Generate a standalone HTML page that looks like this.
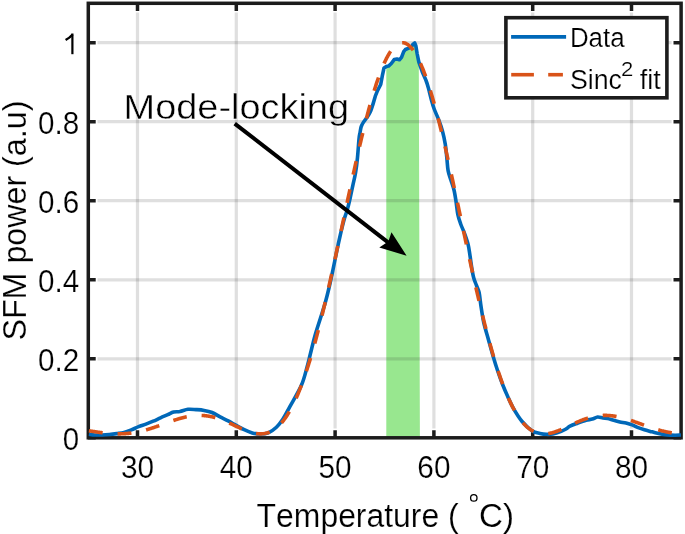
<!DOCTYPE html>
<html><head><meta charset="utf-8"><style>
html,body{margin:0;padding:0;background:#fff;width:685px;height:534px;overflow:hidden}
svg{display:block;will-change:transform}
text{font-family:"Liberation Sans",sans-serif;fill:#000;font-kerning:none;stroke:#fff;stroke-width:0.2px;paint-order:fill stroke}
</style></head><body>
<svg width="685" height="534" viewBox="0 0 685 534">
<rect width="685" height="534" fill="#fff"/>
<path d="M386.3,437.8 L386.3,66.6 L388.5,66.1 L391.3,63.5 L394.2,59.6 L397.0,59.0 L399.4,59.8 L401.5,57.3 L403.7,51.7 L405.4,49.5 L408.2,48.4 L411.0,47.2 L413.3,43.9 L414.7,43.0 L415.8,45.6 L417.2,54.0 L418.8,61.8 L419.9,437.8 Z" fill="#98e78f"/>
<g stroke="rgb(38,38,38)" stroke-opacity="0.15" stroke-width="3.2"><line x1="137.5" y1="12.6" x2="137.5" y2="428.5"/><line x1="236.3" y1="12.6" x2="236.3" y2="428.5"/><line x1="335.1" y1="12.6" x2="335.1" y2="428.5"/><line x1="433.9" y1="12.6" x2="433.9" y2="428.5"/><line x1="532.7" y1="12.6" x2="532.7" y2="428.5"/><line x1="631.5" y1="12.6" x2="631.5" y2="428.5"/><line x1="97.5" y1="358.8" x2="671.6" y2="358.8"/><line x1="97.5" y1="279.8" x2="671.6" y2="279.8"/><line x1="97.5" y1="200.7" x2="671.6" y2="200.7"/><line x1="97.5" y1="121.7" x2="671.6" y2="121.7"/><line x1="97.5" y1="42.7" x2="671.6" y2="42.7"/></g>
<g fill="none" stroke="#1c1c1c" stroke-width="3.5">
<rect x="88.3" y="3.3" width="592.8" height="434.5"/>
<path d="M137.5,437.8V430.2 M137.5,3.3V10.9 M236.3,437.8V430.2 M236.3,3.3V10.9 M335.1,437.8V430.2 M335.1,3.3V10.9 M433.9,437.8V430.2 M433.9,3.3V10.9 M532.7,437.8V430.2 M532.7,3.3V10.9 M631.5,437.8V430.2 M631.5,3.3V10.9 M88.1,437.8H95.7 M681.1,437.8H673.5 M88.1,358.8H95.7 M681.1,358.8H673.5 M88.1,279.8H95.7 M681.1,279.8H673.5 M88.1,200.7H95.7 M681.1,200.7H673.5 M88.1,121.7H95.7 M681.1,121.7H673.5 M88.1,42.7H95.7 M681.1,42.7H673.5 "/>
</g>
<path d="M88.90,434.30 C89.88,434.42 92.60,434.88 94.80,435.00 C97.00,435.12 99.67,435.08 102.10,435.00 C104.53,434.92 106.97,434.73 109.40,434.50 C111.83,434.27 114.27,433.95 116.70,433.60 C119.13,433.25 121.57,433.02 124.00,432.40 C126.43,431.78 128.87,430.85 131.30,429.90 C133.73,428.95 136.17,427.67 138.60,426.70 C141.03,425.73 143.47,425.02 145.90,424.10 C148.33,423.18 150.77,422.25 153.20,421.20 C155.63,420.15 158.07,418.90 160.50,417.80 C162.93,416.70 165.62,415.57 167.80,414.60 C169.98,413.63 171.57,412.52 173.60,412.00 C175.63,411.48 177.60,411.95 180.00,411.50 C182.40,411.05 185.32,409.62 188.00,409.30 C190.68,408.98 193.42,409.42 196.10,409.60 C198.78,409.78 201.43,409.92 204.10,410.40 C206.77,410.88 209.43,411.42 212.10,412.50 C214.77,413.58 217.42,415.50 220.10,416.90 C222.78,418.30 225.52,419.48 228.20,420.90 C230.88,422.32 233.53,423.93 236.20,425.40 C238.87,426.87 241.52,428.45 244.20,429.70 C246.88,430.95 249.62,432.18 252.30,432.90 C254.98,433.62 257.63,434.00 260.30,434.00 C262.97,434.00 265.62,434.02 268.30,432.90 C270.98,431.78 273.98,429.57 276.40,427.30 C278.82,425.03 280.53,422.78 282.80,419.30 C285.07,415.82 286.90,412.07 290.00,406.40 C293.10,400.73 298.57,391.82 301.40,385.30 C304.23,378.78 305.50,372.55 307.00,367.30 C308.50,362.05 309.08,359.03 310.40,353.80 C311.72,348.57 313.22,341.87 314.90,335.90 C316.58,329.93 318.77,323.57 320.50,318.00 C322.23,312.43 323.87,307.58 325.30,302.50 C326.73,297.42 327.85,292.82 329.10,287.50 C330.35,282.18 331.55,276.53 332.80,270.60 C334.05,264.67 335.35,257.83 336.60,251.90 C337.85,245.97 339.07,240.32 340.30,235.00 C341.53,229.68 342.85,224.17 344.00,220.00 C345.15,215.83 346.20,213.54 347.20,210.00 C348.20,206.46 349.07,202.82 350.00,198.75 C350.93,194.68 351.87,189.97 352.80,185.60 C353.73,181.22 354.82,177.18 355.60,172.50 C356.38,167.82 356.93,163.10 357.50,157.50 C358.07,151.90 358.57,143.12 359.00,138.90 C359.43,134.68 359.73,134.25 360.10,132.20 C360.47,130.15 360.63,128.28 361.20,126.60 C361.77,124.92 362.55,123.60 363.50,122.10 C364.45,120.60 365.78,119.28 366.90,117.60 C368.02,115.92 369.18,114.25 370.20,112.00 C371.22,109.75 373.00,104.10 373.00,104.10 L375.30,96.20 L377.50,90.60 L380.70,84.50 L382.40,75.30 L384.00,68.00 L386.30,66.60 L388.50,66.10 L391.30,63.50 L394.20,59.60 L397.00,59.00 L399.40,59.80 L401.50,57.30 L403.70,51.70 L405.40,49.50 L408.20,48.40 L411.00,47.20 L413.30,43.90 L414.70,43.00 L415.80,45.60 L417.20,54.00 L418.80,61.80 L422.30,72.00 C422.30,72.00 425.18,78.33 426.20,81.00 C427.22,83.67 427.55,84.93 428.40,88.00 C429.25,91.07 430.35,95.94 431.30,99.40 C432.25,102.86 432.86,105.32 434.10,108.75 C435.34,112.18 437.35,116.25 438.75,120.00 C440.15,123.75 441.41,127.18 442.50,131.25 C443.59,135.32 444.58,140.03 445.30,144.40 C446.02,148.78 446.33,153.13 446.80,157.50 C447.27,161.87 447.42,166.85 448.10,170.60 C448.78,174.35 449.92,176.77 450.90,180.00 C451.88,183.23 453.15,186.46 454.00,190.00 C454.85,193.54 455.37,197.18 456.00,201.25 C456.63,205.32 457.03,210.65 457.80,214.40 C458.57,218.15 459.50,220.63 460.60,223.75 C461.70,226.87 463.15,229.66 464.40,233.10 C465.65,236.54 467.17,240.65 468.10,244.40 C469.03,248.15 469.37,251.54 470.00,255.60 C470.63,259.66 471.27,265.00 471.90,268.75 C472.52,272.50 472.98,275.31 473.75,278.10 C474.52,280.89 475.61,283.10 476.50,285.50 C477.39,287.90 478.37,289.15 479.10,292.50 C479.83,295.85 480.12,300.60 480.90,305.60 C481.67,310.60 482.50,316.87 483.75,322.50 C485.00,328.13 486.84,333.77 488.40,339.40 C489.96,345.02 491.53,350.94 493.10,356.25 C494.67,361.56 496.18,366.46 497.80,371.25 C499.42,376.04 501.18,380.88 502.80,385.00 C504.42,389.12 505.73,392.10 507.50,396.00 C509.27,399.90 510.97,404.15 513.40,408.40 C515.83,412.65 518.95,417.73 522.10,421.50 C525.25,425.27 529.32,429.02 532.30,431.00 C535.28,432.98 537.65,432.85 540.00,433.40 C542.35,433.95 544.27,434.22 546.40,434.30 C548.53,434.38 550.33,434.40 552.80,433.90 C555.27,433.40 559.00,432.12 561.20,431.30 C563.40,430.48 564.53,429.85 566.00,429.00 C567.47,428.15 568.07,427.17 570.00,426.20 C571.93,425.23 574.92,424.18 577.60,423.20 C580.28,422.22 583.65,420.98 586.10,420.30 C588.55,419.62 590.38,419.65 592.30,419.10 C594.22,418.55 595.82,417.18 597.60,417.00 C599.38,416.82 601.33,417.75 603.00,418.00 C604.67,418.25 605.82,418.12 607.60,418.50 C609.38,418.88 611.65,419.73 613.70,420.30 C615.75,420.87 617.85,421.43 619.90,421.90 C621.95,422.37 623.97,422.60 626.00,423.10 C628.03,423.60 630.07,424.13 632.10,424.90 C634.13,425.67 636.15,426.88 638.20,427.70 C640.25,428.52 642.10,429.12 644.40,429.80 C646.70,430.48 649.45,431.13 652.00,431.80 C654.55,432.47 657.13,433.28 659.70,433.80 C662.27,434.32 664.85,434.67 667.40,434.90 C669.95,435.13 672.75,435.18 675.00,435.20 C677.25,435.22 679.92,435.03 680.90,435.00" fill="none" stroke="#0068b8" stroke-width="3.6" stroke-linejoin="round"/>
<path d="M88.10,430.67 L88.59,430.74 L89.09,430.82 L89.58,430.90 L90.08,430.97 L90.57,431.05 L91.06,431.13 L91.56,431.20 L92.05,431.28 L92.55,431.35 L93.04,431.43 L93.53,431.50 L94.03,431.58 L94.52,431.65 L95.02,431.73 L95.51,431.80 L96.00,431.87 L96.50,431.94 L96.99,432.01 L97.49,432.09 L97.98,432.16 L98.47,432.22 L98.97,432.29 L99.46,432.36 L99.96,432.43 L100.45,432.49 L100.94,432.56 L101.44,432.62 L101.93,432.68 L102.43,432.74 L102.92,432.80 L103.41,432.86 L103.91,432.92 L104.40,432.97 L104.90,433.03 L105.39,433.08 L105.88,433.13 L106.38,433.18 L106.87,433.23 L107.37,433.28 L107.86,433.33 L108.35,433.37 L108.85,433.41 L109.34,433.45 L109.84,433.49 L110.33,433.53 L110.82,433.56 L111.32,433.60 L111.81,433.63 L112.31,433.66 L112.80,433.69 L113.29,433.71 L113.79,433.73 L114.28,433.76 L114.78,433.78 L115.27,433.79 L115.76,433.81 L116.26,433.82 L116.75,433.83 L117.25,433.84 L117.74,433.84 L118.23,433.85 L118.73,433.85 L119.22,433.85 L119.72,433.84 L120.21,433.84 L120.70,433.83 L121.20,433.82 L121.69,433.81 L122.19,433.79 L122.68,433.77 L123.17,433.75 L123.67,433.73 L124.16,433.70 L124.66,433.67 L125.15,433.64 L125.64,433.61 L126.14,433.57 L126.63,433.53 L127.13,433.49 L127.62,433.44 L128.11,433.40 L128.61,433.35 L129.10,433.29 L129.60,433.24 L130.09,433.18 L130.58,433.12 L131.08,433.06 L131.57,432.99 L132.07,432.92 L132.56,432.85 L133.05,432.78 L133.55,432.70 L134.04,432.62 L134.54,432.54 L135.03,432.46 L135.52,432.37 L136.02,432.28 L136.51,432.19 L137.01,432.09 L137.50,431.99 L137.99,431.89 L138.49,431.79 L138.98,431.69 L139.48,431.58 L139.97,431.47 L140.46,431.36 L140.96,431.24 L141.45,431.12 L141.95,431.00 L142.44,430.88 L142.93,430.76 L143.43,430.63 L143.92,430.50 L144.42,430.37 L144.91,430.24 L145.40,430.10 L145.90,429.96 L146.39,429.82 L146.89,429.68 L147.38,429.54 L147.87,429.39 L148.37,429.24 L148.86,429.09 L149.36,428.94 L149.85,428.79 L150.34,428.63 L150.84,428.48 L151.33,428.32 L151.83,428.16 L152.32,428.00 L152.81,427.83 L153.31,427.67 L153.80,427.50 L154.30,427.34 L154.79,427.17 L155.28,427.00 L155.78,426.83 L156.27,426.66 L156.77,426.48 L157.26,426.31 L157.75,426.13 L158.25,425.96 L158.74,425.78 L159.24,425.61 L159.73,425.43 L160.22,425.25 L160.72,425.07 L161.21,424.89 L161.71,424.71 L162.20,424.53 L162.69,424.35 L163.19,424.17 L163.68,423.99 L164.18,423.81 L164.67,423.63 L165.16,423.45 L165.66,423.27 L166.15,423.09 L166.65,422.91 L167.14,422.73 L167.63,422.55 L168.13,422.37 L168.62,422.19 L169.12,422.02 L169.61,421.84 L170.10,421.67 L170.60,421.49 L171.09,421.32 L171.59,421.15 L172.08,420.97 L172.57,420.80 L173.07,420.64 L173.56,420.47 L174.06,420.30 L174.55,420.14 L175.04,419.98 L175.54,419.81 L176.03,419.65 L176.53,419.50 L177.02,419.34 L177.51,419.19 L178.01,419.04 L178.50,418.89 L179.00,418.74 L179.49,418.59 L179.98,418.45 L180.48,418.31 L180.97,418.17 L181.47,418.04 L181.96,417.91 L182.45,417.78 L182.95,417.65 L183.44,417.52 L183.94,417.40 L184.43,417.28 L184.92,417.17 L185.42,417.06 L185.91,416.95 L186.41,416.84 L186.90,416.74 L187.39,416.64 L187.89,416.54 L188.38,416.45 L188.88,416.36 L189.37,416.28 L189.86,416.19 L190.36,416.12 L190.85,416.04 L191.35,415.97 L191.84,415.90 L192.33,415.84 L192.83,415.78 L193.32,415.73 L193.82,415.68 L194.31,415.63 L194.80,415.59 L195.30,415.55 L195.79,415.51 L196.29,415.48 L196.78,415.46 L197.27,415.44 L197.77,415.42 L198.26,415.40 L198.76,415.40 L199.25,415.39 L199.74,415.39 L200.24,415.40 L200.73,415.40 L201.23,415.42 L201.72,415.44 L202.21,415.46 L202.71,415.48 L203.20,415.52 L203.70,415.55 L204.19,415.59 L204.68,415.64 L205.18,415.69 L205.67,415.74 L206.17,415.80 L206.66,415.86 L207.15,415.93 L207.65,416.00 L208.14,416.08 L208.64,416.16 L209.13,416.25 L209.62,416.34 L210.12,416.43 L210.61,416.53 L211.11,416.63 L211.60,416.74 L212.09,416.85 L212.59,416.97 L213.08,417.09 L213.58,417.21 L214.07,417.34 L214.56,417.47 L215.06,417.61 L215.55,417.75 L216.05,417.90 L216.54,418.05 L217.03,418.20 L217.53,418.36 L218.02,418.52 L218.52,418.68 L219.01,418.85 L219.50,419.02 L220.00,419.19 L220.49,419.37 L220.99,419.55 L221.48,419.74 L221.97,419.93 L222.47,420.12 L222.96,420.31 L223.46,420.51 L223.95,420.71 L224.44,420.91 L224.94,421.12 L225.43,421.32 L225.93,421.53 L226.42,421.75 L226.91,421.96 L227.41,422.18 L227.90,422.39 L228.40,422.62 L228.89,422.84 L229.38,423.06 L229.88,423.29 L230.37,423.51 L230.87,423.74 L231.36,423.97 L231.85,424.20 L232.35,424.43 L232.84,424.66 L233.34,424.90 L233.83,425.13 L234.32,425.36 L234.82,425.60 L235.31,425.83 L235.81,426.06 L236.30,426.30 L236.79,426.53 L237.29,426.76 L237.78,426.99 L238.28,427.23 L238.77,427.46 L239.26,427.68 L239.76,427.91 L240.25,428.14 L240.75,428.36 L241.24,428.58 L241.73,428.80 L242.23,429.02 L242.72,429.24 L243.22,429.45 L243.71,429.66 L244.20,429.87 L244.70,430.07 L245.19,430.27 L245.69,430.47 L246.18,430.66 L246.67,430.85 L247.17,431.04 L247.66,431.22 L248.16,431.40 L248.65,431.57 L249.14,431.74 L249.64,431.90 L250.13,432.06 L250.63,432.22 L251.12,432.36 L251.61,432.50 L252.11,432.64 L252.60,432.77 L253.10,432.89 L253.59,433.01 L254.08,433.12 L254.58,433.22 L255.07,433.32 L255.57,433.41 L256.06,433.49 L256.55,433.56 L257.05,433.63 L257.54,433.69 L258.04,433.73 L258.53,433.78 L259.02,433.81 L259.52,433.83 L260.01,433.84 L260.51,433.85 L261.00,433.84 L261.49,433.83 L261.99,433.81 L262.48,433.77 L262.98,433.73 L263.47,433.67 L263.96,433.61 L264.46,433.53 L264.95,433.44 L265.45,433.34 L265.94,433.23 L266.43,433.11 L266.93,432.97 L267.42,432.83 L267.92,432.67 L268.41,432.50 L268.90,432.32 L269.40,432.12 L269.89,431.91 L270.39,431.69 L270.88,431.45 L271.37,431.20 L271.87,430.94 L272.36,430.67 L272.86,430.38 L273.35,430.07 L273.84,429.75 L274.34,429.42 L274.83,429.07 L275.33,428.71 L275.82,428.33 L276.31,427.94 L276.81,427.53 L277.30,427.11 L277.80,426.67 L278.29,426.21 L278.78,425.74 L279.28,425.25 L279.77,424.75 L280.27,424.23 L280.76,423.69 L281.25,423.14 L281.75,422.57 L282.24,421.99 L282.74,421.38 L283.23,420.76 L283.72,420.13 L284.22,419.47 L284.71,418.80 L285.21,418.11 L285.70,417.40 L286.19,416.68 L286.69,415.94 L287.18,415.18 L287.68,414.40 L288.17,413.60 L288.66,412.79 L289.16,411.95 L289.65,411.10 L290.15,410.23 L290.64,409.34 L291.13,408.44 L291.63,407.51 L292.12,406.57 L292.62,405.61 L293.11,404.63 L293.60,403.63 L294.10,402.61 L294.59,401.57 L295.09,400.51 L295.58,399.44 L296.07,398.35 L296.57,397.23 L297.06,396.10 L297.56,394.95 L298.05,393.78 L298.54,392.59 L299.04,391.39 L299.53,390.16 L300.03,388.91 L300.52,387.65 L301.01,386.37 L301.51,385.07 L302.00,383.75 L302.50,382.41 L302.99,381.05 L303.48,379.67 L303.98,378.28 L304.47,376.86 L304.97,375.43 L305.46,373.98 L305.95,372.51 L306.45,371.02 L306.94,369.52 L307.44,368.00 L307.93,366.45 L308.42,364.90 L308.92,363.32 L309.41,361.72 L309.91,360.11 L310.40,358.48 L310.89,356.83 L311.39,355.17 L311.88,353.49 L312.38,351.79 L312.87,350.07 L313.36,348.34 L313.86,346.59 L314.35,344.83 L314.85,343.05 L315.34,341.25 L315.83,339.43 L316.33,337.61 L316.82,335.76 L317.32,333.90 L317.81,332.02 L318.30,330.13 L318.80,328.23 L319.29,326.31 L319.79,324.37 L320.28,322.43 L320.77,320.46 L321.27,318.49 L321.76,316.50 L322.26,314.49 L322.75,312.48 L323.24,310.45 L323.74,308.41 L324.23,306.35 L324.73,304.28 L325.22,302.21 L325.71,300.11 L326.21,298.01 L326.70,295.90 L327.20,293.78 L327.69,291.64 L328.18,289.50 L328.68,287.34 L329.17,285.18 L329.67,283.00 L330.16,280.82 L330.65,278.63 L331.15,276.43 L331.64,274.22 L332.14,272.00 L332.63,269.77 L333.12,267.54 L333.62,265.30 L334.11,263.05 L334.61,260.80 L335.10,258.54 L335.59,256.28 L336.09,254.01 L336.58,251.73 L337.08,249.45 L337.57,247.16 L338.06,244.88 L338.56,242.58 L339.05,240.29 L339.55,237.99 L340.04,235.68 L340.53,233.38 L341.03,231.07 L341.52,228.76 L342.02,226.45 L342.51,224.14 L343.00,221.83 L343.50,219.51 L343.99,217.20 L344.49,214.89 L344.98,212.58 L345.47,210.27 L345.97,207.96 L346.46,205.65 L346.96,203.34 L347.45,201.04 L347.94,198.74 L348.44,196.45 L348.93,194.15 L349.43,191.87 L349.92,189.58 L350.41,187.30 L350.91,185.03 L351.40,182.76 L351.90,180.50 L352.39,178.24 L352.88,175.99 L353.38,173.75 L353.87,171.52 L354.37,169.29 L354.86,167.07 L355.35,164.86 L355.85,162.66 L356.34,160.47 L356.84,158.29 L357.33,156.12 L357.82,153.96 L358.32,151.81 L358.81,149.67 L359.31,147.54 L359.80,145.42 L360.29,143.32 L360.79,141.23 L361.28,139.15 L361.78,137.09 L362.27,135.04 L362.76,133.00 L363.26,130.98 L363.75,128.98 L364.25,126.98 L364.74,125.01 L365.23,123.05 L365.73,121.11 L366.22,119.18 L366.72,117.27 L367.21,115.38 L367.70,113.50 L368.20,111.65 L368.69,109.81 L369.19,107.99 L369.68,106.19 L370.17,104.41 L370.67,102.65 L371.16,100.91 L371.66,99.18 L372.15,97.48 L372.64,95.80 L373.14,94.15 L373.63,92.51 L374.13,90.90 L374.62,89.30 L375.11,87.73 L375.61,86.19 L376.10,84.66 L376.60,83.16 L377.09,81.68 L377.58,80.23 L378.08,78.80 L378.57,77.40 L379.07,76.02 L379.56,74.66 L380.05,73.33 L380.55,72.03 L381.04,70.75 L381.54,69.49 L382.03,68.27 L382.52,67.07 L383.02,65.89 L383.51,64.75 L384.01,63.63 L384.50,62.53 L384.99,61.47 L385.49,60.43 L385.98,59.42 L386.48,58.44 L386.97,57.48 L387.46,56.56 L387.96,55.66 L388.45,54.80 L388.95,53.96 L389.44,53.15 L389.93,52.37 L390.43,51.62 L390.92,50.89 L391.42,50.20 L391.91,49.54 L392.40,48.91 L392.90,48.31 L393.39,47.74 L393.89,47.19 L394.38,46.68 L394.87,46.20 L395.37,45.75 L395.86,45.33 L396.36,44.94 L396.85,44.59 L397.34,44.26 L397.84,43.96 L398.33,43.70 L398.83,43.46 L399.32,43.26 L399.81,43.09 L400.31,42.95 L400.80,42.84 L401.30,42.76 L401.79,42.72 L402.28,42.70 L402.78,42.72 L403.27,42.76 L403.77,42.84 L404.26,42.95 L404.75,43.09 L405.25,43.26 L405.74,43.46 L406.24,43.70 L406.73,43.96 L407.22,44.26 L407.72,44.59 L408.21,44.94 L408.71,45.33 L409.20,45.75 L409.69,46.20 L410.19,46.68 L410.68,47.19 L411.18,47.74 L411.67,48.31 L412.16,48.91 L412.66,49.54 L413.15,50.20 L413.65,50.89 L414.14,51.62 L414.63,52.37 L415.13,53.15 L415.62,53.96 L416.12,54.80 L416.61,55.66 L417.10,56.56 L417.60,57.48 L418.09,58.44 L418.59,59.42 L419.08,60.43 L419.57,61.47 L420.07,62.53 L420.56,63.63 L421.06,64.75 L421.55,65.89 L422.04,67.07 L422.54,68.27 L423.03,69.49 L423.53,70.75 L424.02,72.03 L424.51,73.33 L425.01,74.66 L425.50,76.02 L426.00,77.40 L426.49,78.80 L426.98,80.23 L427.48,81.68 L427.97,83.16 L428.47,84.66 L428.96,86.19 L429.45,87.73 L429.95,89.30 L430.44,90.90 L430.94,92.51 L431.43,94.15 L431.92,95.80 L432.42,97.48 L432.91,99.18 L433.41,100.91 L433.90,102.65 L434.39,104.41 L434.89,106.19 L435.38,107.99 L435.88,109.81 L436.37,111.65 L436.86,113.50 L437.36,115.38 L437.85,117.27 L438.35,119.18 L438.84,121.11 L439.33,123.05 L439.83,125.01 L440.32,126.98 L440.82,128.98 L441.31,130.98 L441.80,133.00 L442.30,135.04 L442.79,137.09 L443.29,139.15 L443.78,141.23 L444.27,143.32 L444.77,145.42 L445.26,147.54 L445.76,149.67 L446.25,151.81 L446.74,153.96 L447.24,156.12 L447.73,158.29 L448.23,160.47 L448.72,162.66 L449.21,164.86 L449.71,167.07 L450.20,169.29 L450.70,171.52 L451.19,173.75 L451.68,175.99 L452.18,178.24 L452.67,180.50 L453.17,182.76 L453.66,185.03 L454.15,187.30 L454.65,189.58 L455.14,191.87 L455.64,194.15 L456.13,196.45 L456.62,198.74 L457.12,201.04 L457.61,203.34 L458.11,205.65 L458.60,207.96 L459.09,210.27 L459.59,212.58 L460.08,214.89 L460.58,217.20 L461.07,219.51 L461.56,221.83 L462.06,224.14 L462.55,226.45 L463.05,228.76 L463.54,231.07 L464.03,233.38 L464.53,235.68 L465.02,237.99 L465.52,240.29 L466.01,242.58 L466.50,244.88 L467.00,247.16 L467.49,249.45 L467.99,251.73 L468.48,254.01 L468.97,256.28 L469.47,258.54 L469.96,260.80 L470.46,263.05 L470.95,265.30 L471.44,267.54 L471.94,269.77 L472.43,272.00 L472.93,274.22 L473.42,276.43 L473.91,278.63 L474.41,280.82 L474.90,283.00 L475.40,285.18 L475.89,287.34 L476.38,289.50 L476.88,291.64 L477.37,293.78 L477.87,295.90 L478.36,298.01 L478.85,300.11 L479.35,302.21 L479.84,304.28 L480.34,306.35 L480.83,308.41 L481.32,310.45 L481.82,312.48 L482.31,314.49 L482.81,316.50 L483.30,318.49 L483.79,320.46 L484.29,322.43 L484.78,324.37 L485.28,326.31 L485.77,328.23 L486.26,330.13 L486.76,332.02 L487.25,333.90 L487.75,335.76 L488.24,337.61 L488.73,339.43 L489.23,341.25 L489.72,343.05 L490.22,344.83 L490.71,346.59 L491.20,348.34 L491.70,350.07 L492.19,351.79 L492.69,353.49 L493.18,355.17 L493.67,356.83 L494.17,358.48 L494.66,360.11 L495.16,361.72 L495.65,363.32 L496.14,364.90 L496.64,366.45 L497.13,368.00 L497.63,369.52 L498.12,371.02 L498.61,372.51 L499.11,373.98 L499.60,375.43 L500.10,376.86 L500.59,378.28 L501.08,379.67 L501.58,381.05 L502.07,382.41 L502.57,383.75 L503.06,385.07 L503.55,386.37 L504.05,387.65 L504.54,388.91 L505.04,390.16 L505.53,391.39 L506.02,392.59 L506.52,393.78 L507.01,394.95 L507.51,396.10 L508.00,397.23 L508.49,398.35 L508.99,399.44 L509.48,400.51 L509.98,401.57 L510.47,402.61 L510.96,403.63 L511.46,404.63 L511.95,405.61 L512.45,406.57 L512.94,407.51 L513.43,408.44 L513.93,409.34 L514.42,410.23 L514.92,411.10 L515.41,411.95 L515.90,412.79 L516.40,413.60 L516.89,414.40 L517.39,415.18 L517.88,415.94 L518.37,416.68 L518.87,417.40 L519.36,418.11 L519.86,418.80 L520.35,419.47 L520.84,420.13 L521.34,420.76 L521.83,421.38 L522.33,421.99 L522.82,422.57 L523.31,423.14 L523.81,423.69 L524.30,424.23 L524.80,424.75 L525.29,425.25 L525.78,425.74 L526.28,426.21 L526.77,426.67 L527.27,427.11 L527.76,427.53 L528.25,427.94 L528.75,428.33 L529.24,428.71 L529.74,429.07 L530.23,429.42 L530.72,429.75 L531.22,430.07 L531.71,430.38 L532.21,430.67 L532.70,430.94 L533.19,431.20 L533.69,431.45 L534.18,431.69 L534.68,431.91 L535.17,432.12 L535.66,432.32 L536.16,432.50 L536.65,432.67 L537.15,432.83 L537.64,432.97 L538.13,433.11 L538.63,433.23 L539.12,433.34 L539.62,433.44 L540.11,433.53 L540.60,433.61 L541.10,433.67 L541.59,433.73 L542.09,433.77 L542.58,433.81 L543.07,433.83 L543.57,433.84 L544.06,433.85 L544.56,433.84 L545.05,433.83 L545.54,433.81 L546.04,433.78 L546.53,433.73 L547.03,433.69 L547.52,433.63 L548.01,433.56 L548.51,433.49 L549.00,433.41 L549.50,433.32 L549.99,433.22 L550.48,433.12 L550.98,433.01 L551.47,432.89 L551.97,432.77 L552.46,432.64 L552.95,432.50 L553.45,432.36 L553.94,432.22 L554.44,432.06 L554.93,431.90 L555.42,431.74 L555.92,431.57 L556.41,431.40 L556.91,431.22 L557.40,431.04 L557.89,430.85 L558.39,430.66 L558.88,430.47 L559.38,430.27 L559.87,430.07 L560.36,429.87 L560.86,429.66 L561.35,429.45 L561.85,429.24 L562.34,429.02 L562.83,428.80 L563.33,428.58 L563.82,428.36 L564.32,428.14 L564.81,427.91 L565.30,427.68 L565.80,427.46 L566.29,427.23 L566.79,426.99 L567.28,426.76 L567.77,426.53 L568.27,426.30 L568.76,426.06 L569.26,425.83 L569.75,425.60 L570.24,425.36 L570.74,425.13 L571.23,424.90 L571.73,424.66 L572.22,424.43 L572.71,424.20 L573.21,423.97 L573.70,423.74 L574.20,423.51 L574.69,423.29 L575.18,423.06 L575.68,422.84 L576.17,422.62 L576.67,422.39 L577.16,422.18 L577.65,421.96 L578.15,421.75 L578.64,421.53 L579.14,421.32 L579.63,421.12 L580.12,420.91 L580.62,420.71 L581.11,420.51 L581.61,420.31 L582.10,420.12 L582.59,419.93 L583.09,419.74 L583.58,419.55 L584.08,419.37 L584.57,419.19 L585.06,419.02 L585.56,418.85 L586.05,418.68 L586.55,418.52 L587.04,418.36 L587.53,418.20 L588.03,418.05 L588.52,417.90 L589.02,417.75 L589.51,417.61 L590.00,417.47 L590.50,417.34 L590.99,417.21 L591.49,417.09 L591.98,416.97 L592.47,416.85 L592.97,416.74 L593.46,416.63 L593.96,416.53 L594.45,416.43 L594.94,416.34 L595.44,416.25 L595.93,416.16 L596.43,416.08 L596.92,416.00 L597.41,415.93 L597.91,415.86 L598.40,415.80 L598.90,415.74 L599.39,415.69 L599.88,415.64 L600.38,415.59 L600.87,415.55 L601.37,415.52 L601.86,415.48 L602.35,415.46 L602.85,415.44 L603.34,415.42 L603.84,415.40 L604.33,415.40 L604.82,415.39 L605.32,415.39 L605.81,415.40 L606.31,415.40 L606.80,415.42 L607.29,415.44 L607.79,415.46 L608.28,415.48 L608.78,415.51 L609.27,415.55 L609.76,415.59 L610.26,415.63 L610.75,415.68 L611.25,415.73 L611.74,415.78 L612.23,415.84 L612.73,415.90 L613.22,415.97 L613.72,416.04 L614.21,416.12 L614.70,416.19 L615.20,416.28 L615.69,416.36 L616.19,416.45 L616.68,416.54 L617.17,416.64 L617.67,416.74 L618.16,416.84 L618.66,416.95 L619.15,417.06 L619.64,417.17 L620.14,417.28 L620.63,417.40 L621.13,417.52 L621.62,417.65 L622.11,417.78 L622.61,417.91 L623.10,418.04 L623.60,418.17 L624.09,418.31 L624.58,418.45 L625.08,418.59 L625.57,418.74 L626.07,418.89 L626.56,419.04 L627.05,419.19 L627.55,419.34 L628.04,419.50 L628.54,419.65 L629.03,419.81 L629.52,419.98 L630.02,420.14 L630.51,420.30 L631.01,420.47 L631.50,420.64 L631.99,420.80 L632.49,420.97 L632.98,421.15 L633.48,421.32 L633.97,421.49 L634.46,421.67 L634.96,421.84 L635.45,422.02 L635.95,422.19 L636.44,422.37 L636.93,422.55 L637.43,422.73 L637.92,422.91 L638.42,423.09 L638.91,423.27 L639.40,423.45 L639.90,423.63 L640.39,423.81 L640.89,423.99 L641.38,424.17 L641.87,424.35 L642.37,424.53 L642.86,424.71 L643.36,424.89 L643.85,425.07 L644.34,425.25 L644.84,425.43 L645.33,425.61 L645.83,425.78 L646.32,425.96 L646.81,426.13 L647.31,426.31 L647.80,426.48 L648.30,426.66 L648.79,426.83 L649.28,427.00 L649.78,427.17 L650.27,427.34 L650.77,427.50 L651.26,427.67 L651.75,427.83 L652.25,428.00 L652.74,428.16 L653.24,428.32 L653.73,428.48 L654.22,428.63 L654.72,428.79 L655.21,428.94 L655.71,429.09 L656.20,429.24 L656.69,429.39 L657.19,429.54 L657.68,429.68 L658.18,429.82 L658.67,429.96 L659.16,430.10 L659.66,430.24 L660.15,430.37 L660.65,430.50 L661.14,430.63 L661.63,430.76 L662.13,430.88 L662.62,431.00 L663.12,431.12 L663.61,431.24 L664.10,431.36 L664.60,431.47 L665.09,431.58 L665.59,431.69 L666.08,431.79 L666.57,431.89 L667.07,431.99 L667.56,432.09 L668.06,432.19 L668.55,432.28 L669.04,432.37 L669.54,432.46 L670.03,432.54 L670.53,432.62 L671.02,432.70 L671.51,432.78 L672.01,432.85 L672.50,432.92 L673.00,432.99 L673.49,433.06 L673.98,433.12 L674.48,433.18 L674.97,433.24 L675.47,433.29 L675.96,433.35 L676.45,433.40 L676.95,433.44 L677.44,433.49 L677.94,433.53 L678.43,433.57 L678.92,433.61 L679.42,433.64 L679.91,433.67 L680.41,433.70 L680.90,433.73" fill="none" stroke="#d95319" stroke-width="3.6" stroke-dasharray="13.9 14.97" stroke-dashoffset="-0.8"/>
<g font-size="30.5" style="stroke-width:0.1px"><text x="137.5" y="478" text-anchor="middle" textLength="33.1" lengthAdjust="spacingAndGlyphs">30</text><text x="236.3" y="478" text-anchor="middle" textLength="33.1" lengthAdjust="spacingAndGlyphs">40</text><text x="335.1" y="478" text-anchor="middle" textLength="33.1" lengthAdjust="spacingAndGlyphs">50</text><text x="433.9" y="478" text-anchor="middle" textLength="33.1" lengthAdjust="spacingAndGlyphs">60</text><text x="532.7" y="478" text-anchor="middle" textLength="33.1" lengthAdjust="spacingAndGlyphs">70</text><text x="631.5" y="478" text-anchor="middle" textLength="33.1" lengthAdjust="spacingAndGlyphs">80</text><text x="79.2" y="450.0" text-anchor="end" textLength="16.4" lengthAdjust="spacingAndGlyphs">0</text><text x="79.2" y="371.0" text-anchor="end" textLength="41.2" lengthAdjust="spacingAndGlyphs">0.2</text><text x="79.2" y="292.0" text-anchor="end" textLength="41.2" lengthAdjust="spacingAndGlyphs">0.4</text><text x="79.2" y="212.9" text-anchor="end" textLength="41.2" lengthAdjust="spacingAndGlyphs">0.6</text><text x="79.2" y="133.9" text-anchor="end" textLength="41.2" lengthAdjust="spacingAndGlyphs">0.8</text></g>
<path d="M71.3,33.5 H73.5 V54.2 H71.3 Z" fill="#000"/><path d="M72.6,34.4 Q70,37.5 65.6,40" fill="none" stroke="#000" stroke-width="2.4"/>
<text x="256.6" y="526.8" font-size="33.3" textLength="202.1" lengthAdjust="spacingAndGlyphs">Temperature (</text>
<circle cx="473.8" cy="497.9" r="3.2" fill="none" stroke="#000" stroke-width="1.3"/>
<text x="479" y="526.8" font-size="33.3" textLength="35" lengthAdjust="spacingAndGlyphs">C)</text>
<text transform="translate(26.1,220.6) rotate(-90)" font-size="33" text-anchor="middle" textLength="240" lengthAdjust="spacingAndGlyphs">SFM power (a.u)</text>
<rect x="505.9" y="17.7" width="161" height="80.1" fill="#fff" stroke="#1c1c1c" stroke-width="3.6"/>
<line x1="511.1" y1="36.9" x2="566.1" y2="36.9" stroke="#0068b8" stroke-width="3.6"/>
<line x1="511.2" y1="74.7" x2="533.9" y2="74.7" stroke="#d95319" stroke-width="3.6"/>
<line x1="548.2" y1="74.7" x2="562.9" y2="74.7" stroke="#d95319" stroke-width="3.6"/>
<text x="569.9" y="47.1" font-size="27" textLength="54.7" lengthAdjust="spacingAndGlyphs">Data</text>
<text x="569.9" y="88.7" font-size="27" textLength="52" lengthAdjust="spacingAndGlyphs">Sinc</text>
<text x="621.1" y="75.8" font-size="21" textLength="12.3" lengthAdjust="spacingAndGlyphs">2</text>
<text x="639.8" y="88.7" font-size="27">fit</text>
<text x="123.6" y="119.2" font-size="35" style="stroke-width:0.4px" textLength="225.4" lengthAdjust="spacingAndGlyphs">Mode-locking</text>
<line x1="234.7" y1="123.6" x2="391" y2="244.6" stroke="#000" stroke-width="4"/>
<path d="M406.6,255.8 L391.5,232.2 L388.3,241.5 L379.3,247.4 Z" fill="#000"/>
</svg>
</body></html>
